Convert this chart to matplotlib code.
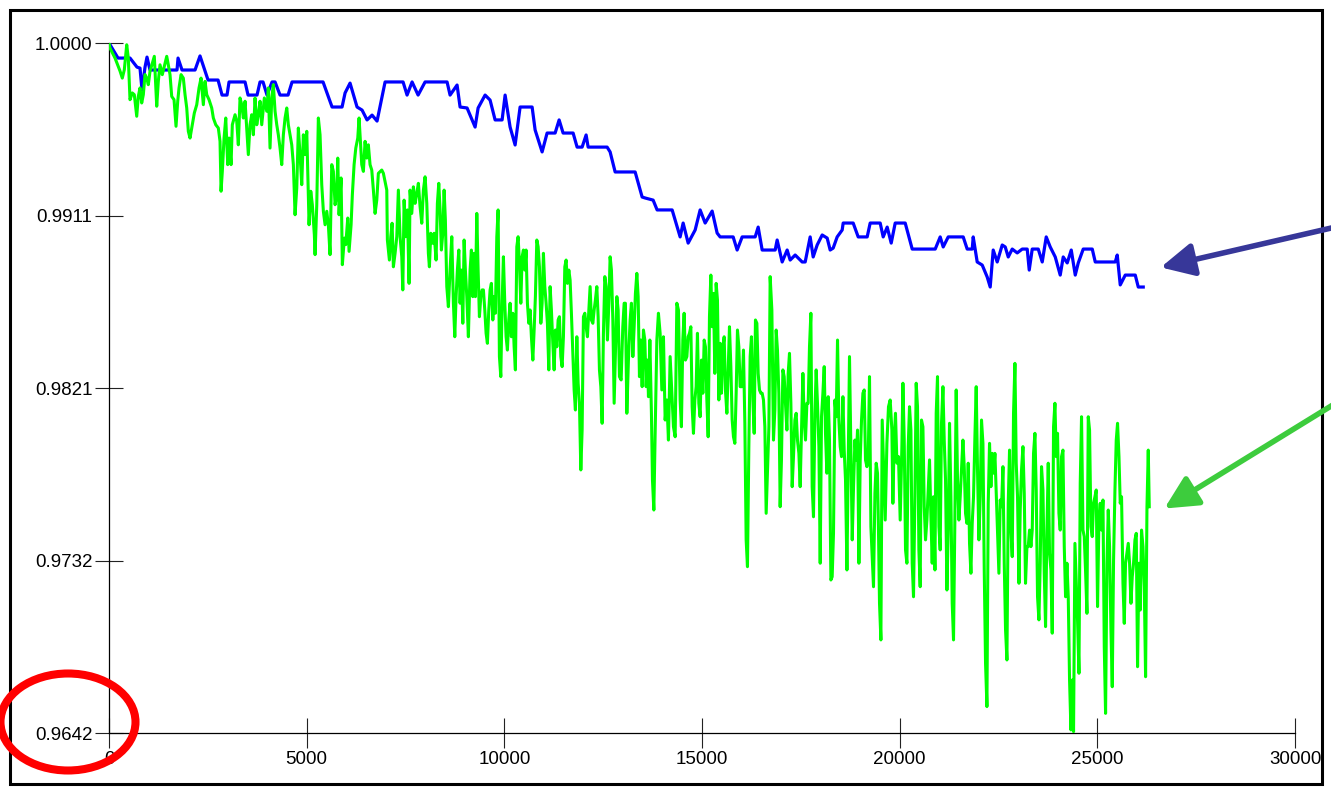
import matplotlib
matplotlib.use("Agg")
import matplotlib.pyplot as plt
from matplotlib.patches import Ellipse, Rectangle, FancyArrowPatch

plt.rcParams['font.family'] = ['Liberation Sans', 'DejaVu Sans']

# blue series (step-like)
blue_x = [0, 228, 531, 708, 784, 835, 911, 961, 1037, 1113,
          1720, 1746, 1847, 2176, 2302, 2505, 2758, 2859, 2985, 3036,
          3441, 3517, 3744, 3820, 3896, 3997, 4124, 4200, 4326, 4529,
          4630, 5414, 5642, 5895, 5971, 6097, 6274, 6401, 6527, 6654,
          6780, 6983, 7438, 7539, 7666, 7818, 7995, 8551, 8627, 8804,
          8880, 9057, 9260, 9336, 9513, 9639, 9766, 9943, 10019, 10145,
          10272, 10398, 10702, 10778, 10955, 11081, 11284, 11385, 11486, 11739,
          11840, 11967, 12068, 12119, 12599, 12675, 12802, 13308, 13485, 13561,
          13763, 13864, 14244, 14446, 14522, 14649, 14826, 14952, 15079, 15256,
          15382, 15458, 15787, 15888, 16015, 16344, 16420, 16521, 16850, 16900,
          17027, 17153, 17229, 17356, 17533, 17609, 17735, 17811, 17912, 18039,
          18165, 18241, 18317, 18418, 18545, 18570, 18823, 18950, 19177, 19253,
          19506, 19582, 19683, 19785, 19886, 20139, 20316, 20898, 21024, 21100,
          21227, 21606, 21707, 21834, 21859, 21960, 22087, 22213, 22289, 22365,
          22466, 22593, 22669, 22745, 22846, 22972, 23099, 23225, 23276, 23352,
          23504, 23605, 23706, 23807, 23934, 24060, 24136, 24237, 24339, 24440,
          24516, 24642, 24870, 24946, 25452, 25502, 25578, 25705, 25958, 26034,
          26160]
blue_y = [1.0, 0.99922, 0.99922, 0.99875, 0.99870, 0.99756, 0.99875, 0.99927, 0.99860, 0.99860,
          0.99860, 0.99922, 0.99860, 0.99860, 0.99933, 0.99808, 0.99808, 0.99730, 0.99730, 0.99798,
          0.99798, 0.99730, 0.99730, 0.99798, 0.99798, 0.99730, 0.99798, 0.99798, 0.99730, 0.99730,
          0.99798, 0.99798, 0.99668, 0.99668, 0.99741, 0.99792, 0.99668, 0.99652, 0.99601, 0.99626,
          0.99595, 0.99798, 0.99798, 0.99730, 0.99798, 0.99730, 0.99798, 0.99798, 0.99730, 0.99782,
          0.99668, 0.99663, 0.99564, 0.99663, 0.99730, 0.99704, 0.99601, 0.99601, 0.99730, 0.99564,
          0.99471, 0.99668, 0.99668, 0.99549, 0.99435, 0.99533, 0.99533, 0.99601, 0.99533, 0.99533,
          0.99460, 0.99460, 0.99523, 0.99460, 0.99460, 0.99435, 0.99331, 0.99331, 0.99201, 0.99196,
          0.99185, 0.99134, 0.99134, 0.98994, 0.99066, 0.98962, 0.99030, 0.99134, 0.99066, 0.99128,
          0.99014, 0.98994, 0.98994, 0.98926, 0.98994, 0.98994, 0.99045, 0.98926, 0.98926, 0.98978,
          0.98864, 0.98926, 0.98874, 0.98900, 0.98864, 0.98864, 0.98994, 0.98890, 0.98952, 0.99004,
          0.98988, 0.98926, 0.98936, 0.98994, 0.99030, 0.99066, 0.99066, 0.98994, 0.98994, 0.99066,
          0.99066, 0.98994, 0.99045, 0.98962, 0.99066, 0.99066, 0.98931, 0.98931, 0.98994, 0.98942,
          0.98994, 0.98994, 0.98931, 0.98931, 0.98994, 0.98864, 0.98848, 0.98786, 0.98734, 0.98926,
          0.98864, 0.98952, 0.98942, 0.98890, 0.98931, 0.98911, 0.98931, 0.98931, 0.98822, 0.98931,
          0.98931, 0.98864, 0.98994, 0.98942, 0.98890, 0.98796, 0.98890, 0.98859, 0.98926, 0.98796,
          0.98859, 0.98931, 0.98931, 0.98864, 0.98864, 0.98900, 0.98745, 0.98796, 0.98796, 0.98734,
          0.98734]

# green series (noisy)
green_x = [0, 25, 152, 278, 336, 387, 448, 488, 531, 589,
           640, 701, 741, 784, 827, 868, 911, 954, 994, 1037,
           1146, 1207, 1247, 1290, 1348, 1417, 1460, 1500, 1543, 1586,
           1645, 1695, 1738, 1771, 1822, 1880, 1923, 1966, 2006, 2049,
           2092, 2158, 2219, 2277, 2328, 2386, 2429, 2472, 2530, 2598,
           2639, 2700, 2765, 2808, 2834, 2866, 2910, 2953, 3003, 3036,
           3087, 3119, 3188, 3231, 3271, 3314, 3357, 3398, 3441, 3484,
           3524, 3567, 3610, 3651, 3694, 3737, 3777, 3820, 3863, 3929,
           3990, 4030, 4073, 4116, 4157, 4200, 4243, 4283, 4326, 4369,
           4410, 4453, 4496, 4536, 4579, 4622, 4663, 4706, 4749, 4789,
           4832, 4875, 4916, 4959, 5002, 5060, 5103, 5143, 5194, 5212,
           5255, 5295, 5338, 5381, 5422, 5465, 5508, 5548, 5591, 5634,
           5675, 5718, 5761, 5786, 5819, 5870, 5902, 5953, 5989, 6039,
           6072, 6123, 6155, 6199, 6242, 6292, 6325, 6350, 6393, 6434,
           6477, 6520, 6560, 6603, 6646, 6687, 6730, 6773, 6813, 6899,
           6940, 7026, 7041, 7092, 7127, 7160, 7193, 7236, 7279, 7319,
           7362, 7405, 7431, 7464, 7507, 7547, 7590, 7615, 7658, 7699,
           7742, 7785, 7825, 7868, 7911, 7952, 7995, 8038, 8078, 8104,
           8139, 8190, 8223, 8273, 8306, 8341, 8374, 8407, 8443, 8476,
           8508, 8544, 8584, 8627, 8670, 8711, 8746, 8779, 8812, 8848,
           8880, 8913, 8949, 8982, 9014, 9050, 9090, 9133, 9166, 9201,
           9234, 9267, 9303, 9336, 9369, 9404, 9437, 9470, 9505, 9538,
           9571, 9606, 9639, 9672, 9708, 9741, 9773, 9809, 9842, 9875,
           9910, 9943, 9976, 10011, 10044, 10077, 10112, 10145, 10178, 10214,
           10247, 10279, 10315, 10348, 10381, 10416, 10449, 10482, 10517, 10550,
           10583, 10618, 10651, 10684, 10720, 10753, 10785, 10821, 10854, 10887,
           10922, 10955, 10988, 11023, 11056, 11089, 11124, 11157, 11190, 11226,
           11259, 11291, 11327, 11360, 11393, 11428, 11461, 11494, 11529, 11562,
           11595, 11631, 11663, 11696, 11732, 11765, 11797, 11833, 11866, 11899,
           11934, 11967, 12000, 12035, 12068, 12101, 12136, 12169, 12202, 12238,
           12271, 12303, 12339, 12372, 12405, 12440, 12473, 12506, 12541, 12574,
           12607, 12643, 12675, 12708, 12744, 12777, 12810, 12845, 12878, 12911,
           12954, 12996, 13030, 13062, 13098, 13138, 13181, 13214, 13250, 13283,
           13315, 13351, 13384, 13417, 13452, 13485, 13518, 13553, 13586, 13619,
           13645, 13680, 13720, 13746, 13781, 13814, 13857, 13897, 13940, 13983,
           14024, 14067, 14110, 14150, 14193, 14236, 14277, 14320, 14363, 14403,
           14446, 14478, 14514, 14547, 14580, 14616, 14649, 14682, 14717, 14750,
           14783, 14818, 14851, 14884, 14919, 14952, 14985, 15021, 15054, 15086,
           15122, 15155, 15188, 15223, 15256, 15289, 15324, 15357, 15390, 15425,
           15458, 15491, 15527, 15560, 15592, 15628, 15661, 15694, 15729, 15762,
           15795, 15830, 15863, 15896, 15931, 15964, 16015, 16048, 16083, 16116,
           16149, 16184, 16217, 16250, 16286, 16319, 16351, 16387, 16420, 16453,
           16488, 16521, 16554, 16589, 16622, 16655, 16691, 16723, 16766, 16807,
           16842, 16875, 16908, 16943, 16976, 17009, 17045, 17078, 17110, 17146,
           17179, 17212, 17247, 17280, 17313, 17348, 17381, 17414, 17450, 17482,
           17515, 17551, 17584, 17617, 17652, 17685, 17718, 17753, 17786, 17819,
           17855, 17887, 17920, 17956, 17989, 18022, 18057, 18090, 18123, 18158,
           18191, 18224, 18259, 18292, 18325, 18361, 18394, 18427, 18462, 18495,
           18528, 18563, 18596, 18629, 18665, 18698, 18730, 18766, 18799, 18832,
           18867, 18900, 18933, 18968, 19001, 19034, 19069, 19102, 19135, 19170,
           19203, 19236, 19271, 19304, 19337, 19373, 19405, 19438, 19463, 19489,
           19524, 19557, 19590, 19633, 19676, 19716, 19759, 19802, 19827, 19860,
           19893, 19929, 19969, 20012, 20055, 20081, 20114, 20147, 20182, 20215,
           20248, 20283, 20316, 20349, 20384, 20417, 20450, 20485, 20518, 20551,
           20587, 20620, 20653, 20688, 20721, 20754, 20789, 20822, 20855, 20891,
           20923, 20956, 20992, 21024, 21057, 21093, 21126, 21159, 21194, 21227,
           21260, 21295, 21328, 21361, 21396, 21429, 21462, 21497, 21530, 21563,
           21599, 21632, 21665, 21700, 21733, 21766, 21801, 21834, 21867, 21902,
           21935, 21968, 22003, 22036, 22069, 22105, 22138, 22171, 22206, 22239,
           22272, 22307, 22340, 22373, 22408, 22441, 22474, 22509, 22542, 22575,
           22611, 22644, 22677, 22712, 22745, 22778, 22813, 22846, 22879, 22914,
           22947, 22980, 23016, 23048, 23081, 23117, 23150, 23182, 23218, 23251,
           23284, 23319, 23352, 23385, 23420, 23453, 23486, 23521, 23554, 23587,
           23623, 23656, 23689, 23724, 23757, 23790, 23825, 23858, 23891, 23926,
           23959, 23992, 24027, 24060, 24093, 24129, 24162, 24195, 24230, 24263,
           24296, 24331, 24364, 24397, 24432, 24465, 24498, 24534, 24566, 24599,
           24635, 24668, 24700, 24736, 24769, 24802, 24837, 24870, 24903, 24938,
           24971, 25004, 25040, 25072, 25105, 25141, 25174, 25207, 25242, 25275,
           25308, 25343, 25376, 25409, 25444, 25477, 25510, 25546, 25578, 25611,
           25647, 25680, 25712, 25748, 25781, 25814, 25849, 25882, 25915, 25950,
           25983, 26016, 26052, 26084, 26117, 26153, 26186, 26219, 26254, 26287, 26312]
green_y = [1.0, 0.99974, 0.99922, 0.99855, 0.99818, 0.99861, 0.99991, 0.99922, 0.99706, 0.99741,
           0.99732, 0.99620, 0.99723, 0.99767, 0.99689, 0.99732, 0.99836, 0.99818, 0.99784, 0.99853,
           0.99931, 0.99672, 0.99801, 0.99887, 0.99836, 0.99896, 0.99931, 0.99887, 0.99836, 0.99723,
           0.99706, 0.99568, 0.99698, 0.99767, 0.99836, 0.99818, 0.99732, 0.99663, 0.99542, 0.99507,
           0.99559, 0.99637, 0.99680, 0.99767, 0.99818, 0.99680, 0.99801, 0.99732, 0.99706, 0.99663,
           0.99611, 0.99576, 0.99559, 0.99490, 0.99231, 0.99334, 0.99507, 0.99611, 0.99369, 0.99507,
           0.99369, 0.99576, 0.99628, 0.99594, 0.99472, 0.99715, 0.99680, 0.99611, 0.99698, 0.99559,
           0.99421, 0.99576, 0.99628, 0.99524, 0.99715, 0.99576, 0.99628, 0.99698, 0.99576, 0.99715,
           0.99646, 0.99767, 0.99455, 0.99715, 0.99784, 0.99646, 0.99576, 0.99524, 0.99455, 0.99369,
           0.99524, 0.99611, 0.99663, 0.99576, 0.99524, 0.99472, 0.99369, 0.99109, 0.99248, 0.99559,
           0.99421, 0.99265, 0.99524, 0.99421, 0.99542, 0.99057, 0.99231, 0.99161, 0.99005, 0.98902,
           0.99161, 0.99611, 0.99524, 0.99265, 0.99127, 0.99057, 0.99127, 0.99057, 0.98902, 0.99369,
           0.99334, 0.99161, 0.99213, 0.99403, 0.99109, 0.99300, 0.98850, 0.98988, 0.98954, 0.99092,
           0.98919, 0.99057, 0.99213, 0.99369, 0.99455, 0.99507, 0.99611, 0.99524, 0.99369, 0.99334,
           0.99490, 0.99403, 0.99472, 0.99369, 0.99341, 0.99237, 0.99116, 0.99185, 0.99324, 0.99341,
           0.99324, 0.99237, 0.98978, 0.98874, 0.98995, 0.99065, 0.98839, 0.98909, 0.98995, 0.99237,
           0.98995, 0.98891, 0.98719, 0.99185, 0.98995, 0.99134, 0.98753, 0.99237, 0.99116, 0.99254,
           0.99168, 0.99220, 0.99272, 0.99151, 0.99065, 0.99237, 0.99306, 0.99168, 0.98909, 0.98839,
           0.99013, 0.98961, 0.99013, 0.98874, 0.99168, 0.99272, 0.99134, 0.98926, 0.99013, 0.99237,
           0.99082, 0.98736, 0.98632, 0.98822, 0.98995, 0.98650, 0.98476, 0.98684, 0.98822, 0.98926,
           0.98650, 0.98822, 0.98546, 0.98978, 0.98822, 0.98684, 0.98476, 0.98822, 0.98926, 0.98684,
           0.98909, 0.98684, 0.99116, 0.98822, 0.98580, 0.98684, 0.98719, 0.98719, 0.98615, 0.98494,
           0.98442, 0.98615, 0.98719, 0.98753, 0.98563, 0.98684, 0.98598, 0.98995, 0.99134, 0.98373,
           0.98269, 0.98650, 0.98891, 0.98650, 0.98476, 0.98407, 0.98563, 0.98650, 0.98476, 0.98598,
           0.98424, 0.98304, 0.98943, 0.98995, 0.98857, 0.98650, 0.98891, 0.98926, 0.98822, 0.98926,
           0.98650, 0.98546, 0.98615, 0.98476, 0.98355, 0.98511, 0.98684, 0.98978, 0.98943, 0.98839,
           0.98546, 0.98650, 0.98909, 0.98736, 0.98650, 0.98546, 0.98304, 0.98736, 0.98615, 0.98442,
           0.98304, 0.98511, 0.98424, 0.98563, 0.98580, 0.98373, 0.98321, 0.98476, 0.98839, 0.98874,
           0.98753, 0.98822, 0.98770, 0.98598, 0.98390, 0.98200, 0.98096, 0.98476, 0.98235, 0.98131,
           0.97785, 0.97992, 0.98580, 0.98598, 0.98528, 0.98476, 0.98615, 0.98736, 0.98563, 0.98546,
           0.98615, 0.98667, 0.98736, 0.98580, 0.98304, 0.98217, 0.98027, 0.98494, 0.98788, 0.98736,
           0.98459, 0.98650, 0.98891, 0.98822, 0.98563, 0.98131, 0.98390, 0.98684, 0.98615, 0.98269,
           0.98252, 0.98528, 0.98650, 0.98650, 0.98079, 0.98355, 0.98563, 0.98650, 0.98373, 0.98528,
           0.98701, 0.98805, 0.98684, 0.98269, 0.98459, 0.98217, 0.98511, 0.98459, 0.98217, 0.98355,
           0.98165, 0.98459, 0.98079, 0.97733, 0.97577, 0.97975, 0.98459, 0.98598, 0.98494, 0.98200,
           0.98476, 0.98044, 0.98148, 0.97940, 0.98373, 0.98183, 0.98009, 0.97957, 0.98650, 0.98615,
           0.98148, 0.98009, 0.98459, 0.98598, 0.98355, 0.98373, 0.98476, 0.98494, 0.98528, 0.98113,
           0.97975, 0.98148, 0.98217, 0.98494, 0.98131, 0.98061, 0.98355, 0.98183, 0.98459, 0.98424,
           0.98148, 0.97957, 0.98580, 0.98796, 0.98528, 0.98701, 0.98286, 0.98753, 0.98667, 0.98148,
           0.98442, 0.98183, 0.98424, 0.98476, 0.98200, 0.98079, 0.98304, 0.98528, 0.98321, 0.98044,
           0.97957, 0.97923, 0.98183, 0.98511, 0.98424, 0.98217, 0.98217, 0.98407, 0.98027, 0.97422,
           0.97283, 0.97906, 0.98373, 0.98476, 0.98148, 0.97975, 0.98563, 0.98546, 0.98286, 0.98200,
           0.98183, 0.98183, 0.98148, 0.98009, 0.97560, 0.97768, 0.98009, 0.98788, 0.98615, 0.97940,
           0.98096, 0.98511, 0.98407, 0.98183, 0.97594, 0.97837, 0.98304, 0.98269, 0.98131, 0.97992,
           0.98286, 0.98390, 0.98131, 0.97698, 0.97854, 0.98044, 0.98079, 0.97940, 0.97871, 0.97698,
           0.97975, 0.98286, 0.98044, 0.97940, 0.98131, 0.98131, 0.98424, 0.98598, 0.97698, 0.97542,
           0.98079, 0.98304, 0.98131, 0.97906, 0.97301, 0.98061, 0.98183, 0.98321, 0.97975, 0.97768,
           0.98165, 0.97940, 0.97214, 0.97231, 0.97456, 0.98148, 0.98061, 0.98459, 0.98044, 0.97906,
           0.97854, 0.98165, 0.97888, 0.97733, 0.97266, 0.97837, 0.98373, 0.97871, 0.97422, 0.97698,
           0.97940, 0.97837, 0.97992, 0.97301, 0.97837, 0.98044, 0.98183, 0.98200, 0.97837, 0.97802,
           0.97837, 0.98269, 0.97491, 0.97335, 0.97179, 0.97664, 0.97820, 0.97768, 0.97473, 0.97093,
           0.96903, 0.98044, 0.97820, 0.97525, 0.97923, 0.98113, 0.98148, 0.97992, 0.97612, 0.97940,
           0.98079, 0.97820, 0.97854, 0.97525, 0.97906, 0.98235, 0.97940, 0.97370, 0.97301, 0.97906,
           0.98113, 0.97992, 0.97301, 0.97127, 0.97646, 0.98235, 0.98113, 0.97370, 0.97179, 0.98044,
           0.98009, 0.97594, 0.97422, 0.97525, 0.97681, 0.97837, 0.97542, 0.97301, 0.97646, 0.97266,
           0.98079, 0.98269, 0.97491, 0.97370, 0.98027, 0.98217, 0.97940, 0.97733, 0.97162, 0.97473,
           0.98027, 0.97646, 0.97093, 0.96903, 0.97542, 0.98200, 0.97733, 0.97525, 0.97646, 0.97785,
           0.97940, 0.97802, 0.97560, 0.97508, 0.97820, 0.97404, 0.97249, 0.97508, 0.97646, 0.97957,
           0.98217, 0.97785, 0.97422, 0.97646, 0.98044, 0.97923, 0.97266, 0.96782, 0.96557, 0.97612,
           0.97923, 0.97698, 0.97871, 0.97768, 0.97871, 0.97664, 0.97473, 0.97249, 0.97629, 0.97594,
           0.97802, 0.97301, 0.96955, 0.96799, 0.97612, 0.97888, 0.97473, 0.97335, 0.98079, 0.98338,
           0.97820, 0.97646, 0.97197, 0.97577, 0.97785, 0.97906, 0.97664, 0.97197, 0.97387, 0.97387,
           0.97473, 0.97387, 0.97473, 0.97871, 0.97975, 0.97681, 0.97127, 0.97007, 0.97301, 0.97802,
           0.97681, 0.97249, 0.96972, 0.97473, 0.97820, 0.97353, 0.97266, 0.96938, 0.98009, 0.98131,
           0.97854, 0.97975, 0.97560, 0.97473, 0.97854, 0.97888, 0.97387, 0.97127, 0.97301, 0.97127,
           0.96695, 0.96436, 0.96695, 0.96427, 0.97404, 0.97197, 0.97007, 0.96730, 0.97716, 0.98061,
           0.97473, 0.97439, 0.97266, 0.97041, 0.98061, 0.97992, 0.97491, 0.97439, 0.97612, 0.97646,
           0.97681, 0.97076, 0.97542, 0.97612, 0.97473, 0.97629, 0.96868, 0.96522, 0.97301, 0.97577,
           0.97387, 0.96955, 0.96660, 0.97318, 0.97681, 0.97940, 0.98027, 0.97854, 0.97612, 0.97646,
           0.97197, 0.96989, 0.97301, 0.97353, 0.97404, 0.97301, 0.97093, 0.97231, 0.97301, 0.97422,
           0.97456, 0.96764, 0.97301, 0.97058, 0.97473, 0.97387, 0.97179, 0.96712, 0.97594, 0.97888, 0.97594]

x_ticks = [0, 5000, 10000, 15000, 20000, 25000, 30000]
y_ticks = [0.9642, 0.97315, 0.9821, 0.99105, 1.0]
y_labels = ["0.9642", "0.9732", "0.9821", "0.9911", "1.0000"]

fig = plt.figure(figsize=(13.31, 7.91), dpi=100)
ax = fig.add_axes([0.0819, 0.0733, 0.8911, 0.8723])

ax.plot(blue_x, blue_y, color="#0000ff", lw=2.3, zorder=3)
ax.plot(green_x, green_y, color="#00ff00", lw=2.2, zorder=4)

ax.set_xlim(0, 30000)
ax.set_ylim(0.9642, 1.0)
ax.set_xticks(x_ticks)
ax.set_xticklabels([str(t) for t in x_ticks])
ax.set_yticks(y_ticks)
ax.set_yticklabels(y_labels)

for s in ["top", "right"]:
    ax.spines[s].set_visible(False)
for s in ["left", "bottom"]:
    ax.spines[s].set_linewidth(0.9)
    ax.spines[s].set_color("black")

ax.tick_params(axis="x", direction="inout", length=21, width=0.8, color="#222222",
               labelsize=13.5, pad=2.5)
ax.tick_params(axis="y", direction="inout", length=20, width=0.8, color="#222222",
               labelsize=13.5, pad=2)

inch = fig.dpi_scale_trans

# frame around the whole picture
fig.add_artist(Rectangle((0.10, 0.07), 13.12, 7.74, transform=inch, fill=False,
                         edgecolor="black", lw=2.2, zorder=10))

# red ellipse around the lowest y label
fig.add_artist(Ellipse((0.68, 0.69), 1.35, 0.97, transform=inch, fill=False,
                       edgecolor="#ff0000", lw=5.8, zorder=11))

# arrows pointing at the two curves
fig.add_artist(FancyArrowPatch((13.40, 5.65), (11.58, 5.23), transform=inch,
                               arrowstyle="-|>,head_length=1.0,head_width=0.5",
                               mutation_scale=20, lw=4.0, color="#373799", zorder=12))
fig.add_artist(FancyArrowPatch((13.36, 3.88), (11.62, 2.81), transform=inch,
                               arrowstyle="-|>,head_length=1.0,head_width=0.5",
                               mutation_scale=20, lw=4.0, color="#3dcc3d", zorder=12))

fig.savefig("out.png", dpi=100)
